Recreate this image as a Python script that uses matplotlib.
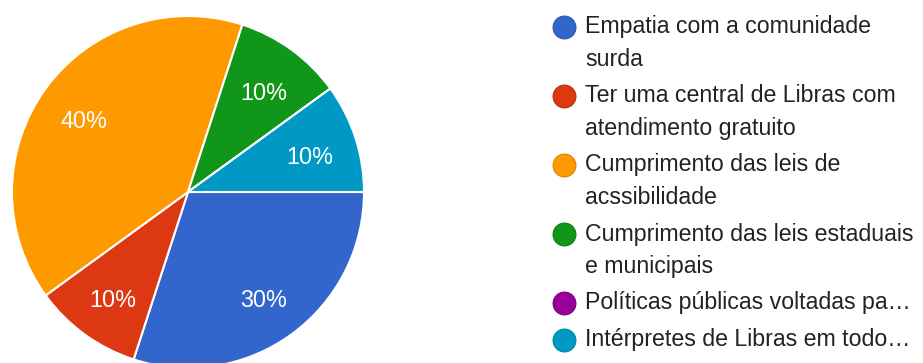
import matplotlib
matplotlib.use("Agg")
import matplotlib.pyplot as plt

plt.rcParams["font.family"] = ["Liberation Sans", "DejaVu Sans"]

# answer shares (percent) and legend labels, in drawing order
labels = [
    "Empatia com a comunidade\nsurda",
    "Ter uma central de Libras com\natendimento gratuito",
    "Cumprimento das leis de\nacssibilidade",
    "Cumprimento das leis estaduais\ne municipais",
    "Políticas públicas voltadas pa…",
    "Intérpretes de Libras em todo…",
]
shares = [30, 10, 40, 10, 0, 10]
colors = ["#3366CC", "#DC3912", "#FF9900", "#109618", "#990099", "#0099C6"]
edge_colors = ["#2a55ad", "#b92f0f", "#d98200", "#0d7d14", "#800080", "#0083a9"]

W, H = 923, 363
fig = plt.figure(figsize=(W / 100, H / 100), dpi=100)
ax = fig.add_axes([0, 0, 1, 1])

# pie in pixel coordinates (y measured up from the bottom)
cx, cy, r = 188, H - 192, 176


def pct_label(p):
    return f"{p:.0f}%" if p > 0.5 else ""


wedges, texts, autotexts = ax.pie(
    shares,
    colors=colors,
    startangle=0,
    counterclock=False,
    center=(cx, cy),
    radius=r,
    autopct=pct_label,
    pctdistance=0.73,
    wedgeprops=dict(edgecolor="white", linewidth=1.5),
    textprops=dict(color="white", fontsize=16.8),
)
# percentages sit a little below the wedge's mid-radius point
for t in autotexts:
    x0, y0 = t.get_position()
    t.set_position((x0, y0 - 5))

# legend drawn by hand so that wrapped labels keep the marker on their first line
y = H - 27
line_step, item_gap = 32.5, 4
for label, c, ec in zip(labels, colors, edge_colors):
    ax.scatter([564], [y], s=270, color=c, edgecolors=ec, linewidths=0.8, zorder=3)
    for i, line in enumerate(label.split("\n")):
        ax.text(585, y - i * line_step, line, fontsize=16.7, color="#222222",
                ha="left", va="center")
    y -= line_step * len(label.split("\n")) + item_gap

ax.set_xlim(0, W)
ax.set_ylim(0, H)
ax.set_aspect("equal")
ax.axis("off")

fig.savefig("out.png", dpi=100)
